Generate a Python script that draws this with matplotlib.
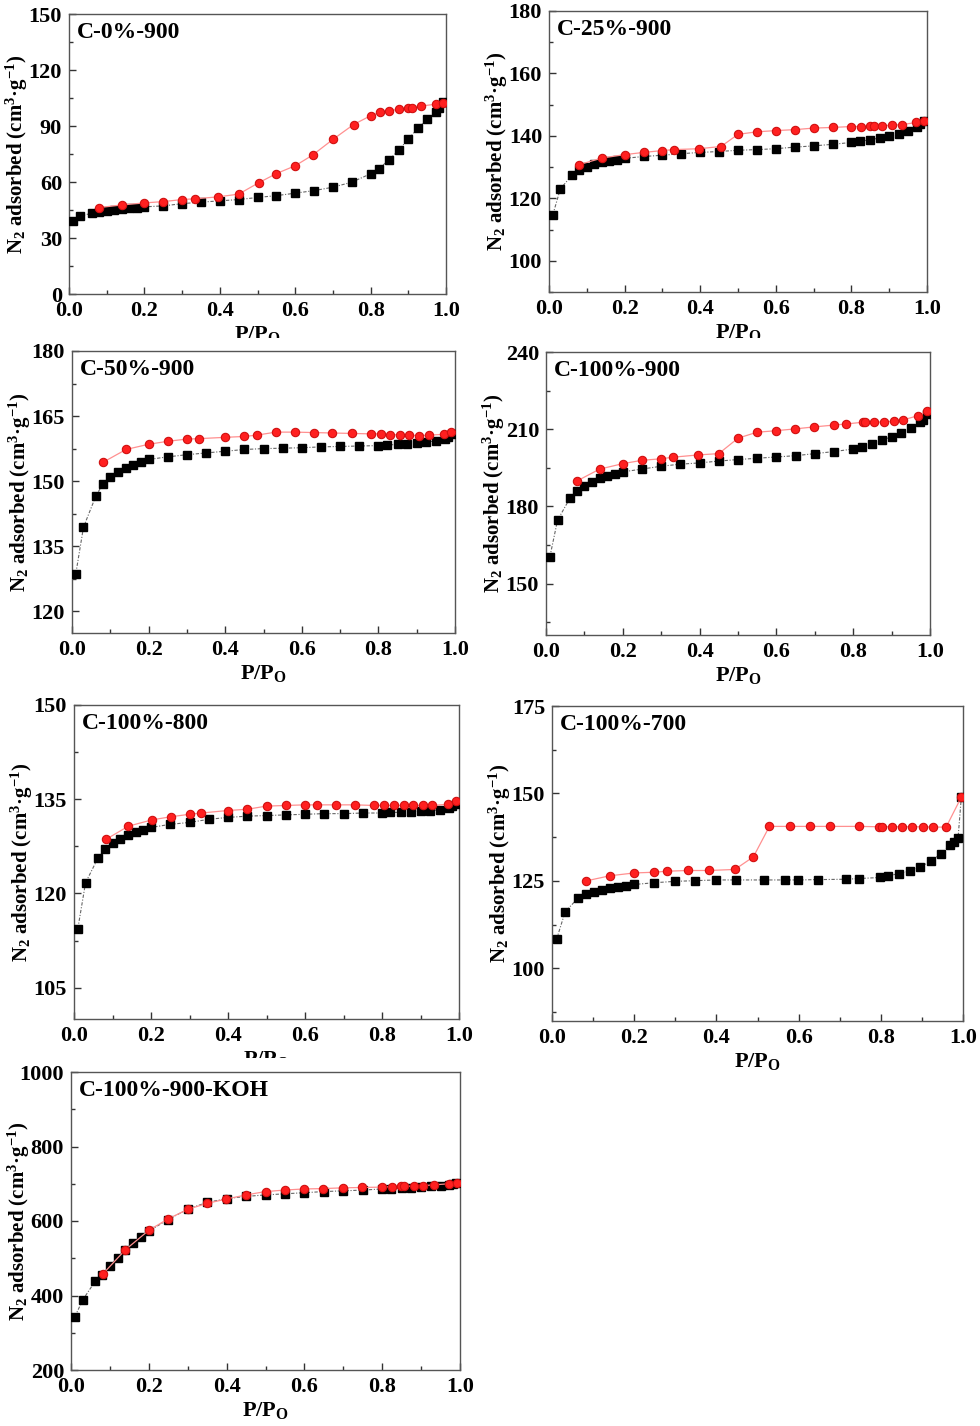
import matplotlib
matplotlib.use("Agg")
import matplotlib.pyplot as plt
from matplotlib.ticker import MultipleLocator, FormatStrFormatter
from matplotlib.transforms import Bbox

plt.rcParams['font.family'] = ['Liberation Serif', 'DejaVu Serif']
plt.rcParams['font.weight'] = 'bold'
plt.rcParams['mathtext.default'] = 'regular'

# relative pressure points (adsorption branch)
ads_x = [0.01, 0.03, 0.062, 0.08, 0.1, 0.12, 0.14, 0.16, 0.18, 0.2, 0.25, 0.3, 0.35, 0.4,
         0.45, 0.5, 0.55, 0.6, 0.65, 0.7, 0.75, 0.8, 0.822, 0.85, 0.875, 0.9, 0.925, 0.95,
         0.973, 0.982, 0.991]

# C-0%-900
c0_ads = [39.2, 41.7, 43.4, 44.0, 44.5, 44.9, 45.4, 46.0, 46.3, 46.7, 47.2, 48.4, 49.2, 49.9,
          50.6, 51.7, 52.7, 54.0, 55.4, 57.2, 59.9, 64.4, 67.2, 72.0, 77.2, 83.0, 88.7, 93.5,
          97.6, 99.4, 102.6]
c0_des_x = [0.08, 0.14, 0.2, 0.25, 0.3, 0.333, 0.394, 0.45, 0.504, 0.55, 0.6, 0.646, 0.7,
            0.755, 0.8, 0.825, 0.85, 0.875, 0.9, 0.91, 0.935, 0.973, 0.993]
c0_des = [46.3, 47.7, 48.8, 49.5, 50.6, 51.0, 52.0, 53.5, 59.7, 64.5, 68.7, 74.4, 82.8,
          90.8, 95.5, 97.3, 98.3, 98.9, 99.4, 99.8, 100.7, 101.7, 102.4]

# C-25%-900
c25_ads = [114.7, 123.0, 127.6, 129.0, 130.1, 130.9, 131.5, 131.9, 132.3, 132.8, 133.4, 133.8,
           134.3, 134.7, 135.0, 135.4, 135.6, 135.9, 136.4, 136.8, 137.3, 137.9, 138.3, 138.7,
           139.4, 140.0, 140.6, 141.6, 142.8, 143.7, 144.9]
c25_des_x = [0.08, 0.14, 0.2, 0.25, 0.3, 0.33, 0.397, 0.455, 0.5, 0.55, 0.6, 0.65, 0.7, 0.75,
             0.8, 0.825, 0.85, 0.86, 0.882, 0.907, 0.933, 0.972, 0.993]
c25_des = [130.8, 132.9, 134.0, 134.7, 135.3, 135.6, 135.9, 136.6, 140.5, 141.3, 141.7, 142.0,
           142.5, 142.7, 143.0, 143.0, 143.1, 143.1, 143.3, 143.4, 143.6, 144.3, 144.9]

# C-50%-900
c50_ads = [128.7, 139.4, 146.5, 149.3, 150.9, 152.1, 153.1, 153.8, 154.4, 155.0, 155.6, 156.1,
           156.5, 156.9, 157.3, 157.5, 157.6, 157.7, 157.9, 158.0, 158.1, 158.2, 158.3, 158.5,
           158.6, 158.8, 159.0, 159.3, 159.7, 160.1, 160.8]
c50_des_x = [0.082, 0.141, 0.2, 0.251, 0.3, 0.332, 0.4, 0.449, 0.482, 0.532, 0.583, 0.631, 0.68,
             0.73, 0.78, 0.806, 0.831, 0.856, 0.881, 0.907, 0.931, 0.972, 0.99]
c50_des = [154.4, 157.3, 158.5, 159.2, 159.7, 159.8, 160.1, 160.3, 160.6, 161.3, 161.3, 161.2,
           161.1, 161.0, 160.9, 160.9, 160.7, 160.7, 160.6, 160.5, 160.6, 160.8, 161.3]

# C-100%-900
c100_ads = [160.3, 174.6, 183.1, 186.0, 188.1, 189.6, 190.9, 191.8, 192.6, 193.4, 194.5, 195.6,
            196.4, 196.9, 197.6, 198.2, 198.7, 199.2, 199.7, 200.5, 201.3, 202.3, 203.1, 204.4,
            205.7, 207.1, 208.7, 210.3, 212.7, 213.7, 215.8]
c100_des_x = [0.081, 0.14, 0.2, 0.25, 0.3, 0.33, 0.397, 0.45, 0.5, 0.549, 0.598, 0.648, 0.699,
              0.75, 0.78, 0.825, 0.831, 0.855, 0.88, 0.905, 0.93, 0.97, 0.991]
c100_des = [189.9, 194.5, 196.6, 197.9, 198.5, 199.1, 200.0, 200.5, 206.5, 208.8, 209.4, 210.1,
            210.9, 211.6, 212.0, 212.7, 212.7, 212.7, 212.8, 213.1, 213.6, 215.3, 217.1]

# C-100%-800
c800_ads = [114.4, 121.7, 125.6, 127.0, 128.0, 128.7, 129.3, 129.7, 130.1, 130.5, 131.0, 131.3,
            131.8, 132.1, 132.3, 132.4, 132.5, 132.6, 132.7, 132.7, 132.8, 132.8, 132.9, 132.9,
            133.0, 133.1, 133.2, 133.3, 133.6, 133.9, 134.3]
c800_des_x = [0.083, 0.141, 0.202, 0.251, 0.3, 0.331, 0.399, 0.45, 0.5, 0.55, 0.599, 0.631,
              0.681, 0.731, 0.78, 0.805, 0.83, 0.856, 0.881, 0.906, 0.931, 0.972, 0.993]
c800_des = [128.6, 130.7, 131.7, 132.2, 132.6, 132.8, 133.2, 133.4, 133.9, 134.0, 134.1, 134.1,
            134.1, 134.1, 134.0, 134.0, 134.0, 134.0, 134.0, 134.0, 134.0, 134.2, 134.7]

# C-100%-700
c700_ads_x = [0.011, 0.032, 0.064, 0.082, 0.101, 0.121, 0.141, 0.16, 0.181, 0.2, 0.248, 0.3,
              0.349, 0.399, 0.448, 0.517, 0.566, 0.598, 0.647, 0.715, 0.746, 0.798, 0.817,
              0.845, 0.871, 0.896, 0.921, 0.946, 0.969, 0.977, 0.988, 0.996]
c700_ads = [108.3, 116.2, 120.2, 121.2, 121.9, 122.5, 123.0, 123.4, 123.7, 124.0, 124.5, 124.9,
            125.1, 125.3, 125.3, 125.3, 125.3, 125.3, 125.4, 125.5, 125.7, 126.0, 126.5, 127.1,
            127.9, 129.0, 130.7, 132.7, 135.2, 136.1, 137.4, 149.0]
c700_des_x = [0.082, 0.141, 0.2, 0.248, 0.28, 0.33, 0.381, 0.445, 0.49, 0.529, 0.579, 0.628,
              0.677, 0.746, 0.796, 0.804, 0.828, 0.852, 0.877, 0.902, 0.927, 0.959, 0.996]
c700_des = [125.0, 126.5, 127.3, 127.5, 127.8, 128.0, 128.0, 128.3, 131.9, 140.6, 140.6, 140.6,
            140.6, 140.6, 140.5, 140.5, 140.5, 140.5, 140.5, 140.5, 140.4, 140.4, 149.0]

# C-100%-900-KOH
koh_ads = [343, 388, 438, 456, 480, 502, 522, 541, 558, 573, 604, 632, 650, 660, 666, 670,
           673, 676, 679, 681, 683, 686, 687, 688, 689, 691, 693, 694, 697, 699, 703]
koh_des_x = [0.082, 0.14, 0.2, 0.25, 0.302, 0.349, 0.399, 0.45, 0.5, 0.549, 0.598, 0.648,
             0.698, 0.748, 0.8, 0.825, 0.849, 0.857, 0.881, 0.906, 0.932, 0.972, 0.993]
koh_des = [458, 523, 575, 606, 632, 647, 659, 670, 679, 683, 686, 687, 689, 690, 691, 692,
           693, 693, 694, 695, 697, 700, 703]

W, H = 980, 1426
fig = plt.figure(figsize=(W / 100, H / 100), dpi=100)

# (name, ads x, ads y, des x, des y, ylim, major step, first major, box px (x0, y0, x1, y1), xlabel clip y)
panels = [
    ("C-0%-900", ads_x, c0_ads, c0_des_x, c0_des, (0, 150), 30, 0, (69, 14, 446, 294), 338),
    ("C-25%-900", ads_x, c25_ads, c25_des_x, c25_des, (90, 180), 20, 100, (549, 11, 927, 292), 338),
    ("C-50%-900", ads_x, c50_ads, c50_des_x, c50_des, (115, 180), 15, 120, (72, 351, 455, 633), None),
    ("C-100%-900", ads_x, c100_ads, c100_des_x, c100_des, (130, 240), 30, 150, (546, 352, 930, 635), None),
    ("C-100%-800", ads_x, c800_ads, c800_des_x, c800_des, (100, 150), 15, 105, (74, 705, 459, 1019), 1058),
    ("C-100%-700", c700_ads_x, c700_ads, c700_des_x, c700_des, (85, 175), 25, 100, (552, 706, 963, 1021), None),
    ("C-100%-900-KOH", ads_x, koh_ads, koh_des_x, koh_des, (200, 1000), 200, 200, (71, 1072, 460, 1370), None),
]

for name, ax_x, ax_y, dx, dy, ylim, step, first, box, clip_y in panels:
    x0, y0, x1, y1 = box
    aw, ah = x1 - x0, y1 - y0
    ax = fig.add_axes([x0 / W, 1 - y1 / H, aw / W, ah / H])
    ax.plot(ax_x, ax_y, color='#666666', lw=0.8, ls=(0, (3, 1.5, 1, 1.5)),
            marker='s', ms=5.5, mfc='black', mec='black', zorder=3)
    ax.plot(dx, dy, color='#ff9090', lw=0.9, ls='-',
            marker='o', ms=6, mfc='#ff2020', mec='#d01010', mew=0.8, zorder=4)
    ax.set_xlim(0, 1)
    ax.set_ylim(*ylim)
    ax.set_yticks(list(range(first, ylim[1] + 1, step)))
    ax.yaxis.set_minor_locator(MultipleLocator(step / 2))
    ax.xaxis.set_major_locator(MultipleLocator(0.2))
    ax.xaxis.set_minor_locator(MultipleLocator(0.1))
    ax.xaxis.set_major_formatter(FormatStrFormatter('%.1f'))
    ax.tick_params(which='both', direction='in', top=False, right=False,
                   labelsize=16, pad=5, color='#333333')
    ax.tick_params(which='major', length=5, width=1)
    ax.tick_params(which='minor', length=3, width=1)
    for sp in ax.spines.values():
        sp.set_color('#555555')
        sp.set_linewidth(1.0)
    ax.text(8 / aw, 1 - 8 / ah, name, transform=ax.transAxes, ha='left', va='top',
            fontsize=17, fontweight='bold')
    ax.set_ylabel('N$_2$ adsorbed (cm$^3$\u00b7g$^{-1}$)', fontsize=15, fontweight='bold')
    ax.yaxis.set_label_coords(-39 / aw, 0.5)
    ax.set_xlabel(r'P/P$_O$', fontsize=16, fontweight='bold')
    ax.xaxis.set_label_coords(0.5, -30 / ah)
    if clip_y is not None:
        lab = ax.xaxis.label
        lab.set_clip_box(Bbox.from_extents(0, H - clip_y, W, H))
        lab.set_clip_on(True)

fig.savefig("out.png", dpi=100)
